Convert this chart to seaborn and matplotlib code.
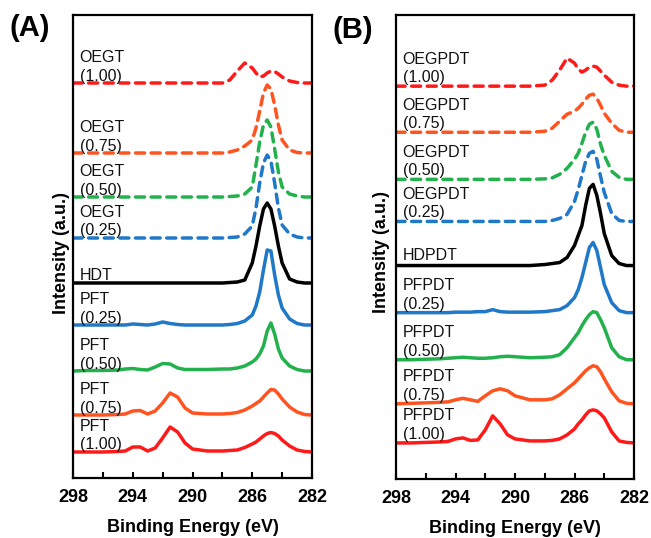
import matplotlib
matplotlib.use("Agg")
import matplotlib.pyplot as plt
import seaborn as sns

# binding energy grid (eV) shared by all spectra
energy = [298, 297, 296, 295, 294.5, 294, 293.5, 293, 292.5, 292, 291.5, 291,
          290.5, 290, 289, 288, 287.5, 287, 286.5, 286, 285.75, 285.5, 285.25,
          285, 284.75, 284.5, 284.25, 284, 283.5, 283, 282.5, 282]

# panel A spectra (a.u., above own baseline)
oegt_100 = [0]*16 + [3, 12, 20, 15, 10, 6, 7, 10, 12, 11.5, 9, 6, 2, 0.5, 0, 0]
oegt_075 = [0]*16 + [1, 3, 7, 13, 25, 42, 60, 68, 64, 48, 28, 13, 3, 0.5, 0, 0]
oegt_050 = [0]*16 + [0.5, 1, 3, 10, 32, 55, 72, 77, 70, 48, 25, 10, 3, 1, 0, 0]
oegt_025 = [0]*16 + [0.5, 1, 4, 12, 30, 55, 75, 83, 77, 55, 30, 13, 4, 1, 0, 0]
hdt = [0]*16 + [0.5, 1, 3, 20, 37, 57, 74, 80, 74, 57, 37, 20, 4, 1, 0, 0]
pft_025 = [0, 0, 0, 0, 0, 1, 0.5, 0, 1, 3, 1.5, 0.5, 0, 0, 0, 0, 0.5,
           1.5, 4, 10, 19, 33, 55, 75, 74, 50, 30, 17, 6, 1.5, 0, 0]
pft_050 = [0, 0.5, 0.5, 1, 2, 2.5, 1.5, 1, 4, 7.5, 7, 3, 1.5, 1.5, 1.5, 2, 2,
           3, 5, 9, 12, 17, 25, 40, 48, 37, 22, 13, 5, 1.5, 0, 0]
pft_075 = [0, 0, 0, 0.5, 1, 4, 4.5, 1, 4, 12, 22, 18, 7, 2, 1, 1, 1.5,
           2.5, 5, 9, 11.5, 14, 18, 22, 25.5, 25, 21, 16, 8, 3, 0.5, 0]
pft_100 = [0, 0, 0, 0.5, 1, 5, 5, 1, 4, 14, 25, 20, 9, 3, 1, 1, 1.5,
           2, 4.5, 8, 10, 13, 16, 18.5, 19.5, 18.5, 16, 12, 6, 2, 0.5, 0]

# panel B spectra
oegpdt_100 = [0]*15 + [1, 6, 16, 28, 23, 17, 14, 16, 19, 20, 19, 15, 11, 4, 1, 0, 0]
oegpdt_075 = [0]*15 + [1, 4, 11, 18, 21, 24, 28, 33, 37, 38, 34, 27, 19, 9, 2, 0, 0]
oegpdt_050 = [0]*15 + [0.5, 1.5, 5, 11, 20, 26, 36, 47, 55, 57, 50, 35, 24, 8, 2, 0, 0]
oegpdt_025 = [0]*15 + [0, 1, 3, 7, 20, 32, 46, 60, 68, 70, 62, 45, 29, 8, 1, 0, 0]
hdpdt = [0]*15 + [1, 2, 3, 8, 20, 30, 40, 60, 77, 81, 70, 52, 32, 10, 2, 0, 0]
pfpdt_025 = [0, 0, 0, 0, 0, 0.5, 0.5, 0.5, 1, 1, 3, 1, 0.5, 0.5, 0.5, 1, 2,
             3, 7, 15, 23, 35, 50, 65, 70, 62, 45, 28, 10, 2, 0, 0]
pfpdt_050 = [0, 0, 0.5, 1, 1.5, 2, 2.5, 2, 1.5, 1.5, 2, 3, 3.5, 3, 2, 2.5, 3,
             5, 12, 22, 27, 34, 40, 45, 48, 47, 40, 32, 12, 3, 0, 0]
pfpdt_075 = [0, 0.5, 1, 1.5, 2, 4, 5.5, 4, 2.5, 8, 13, 15, 13, 8, 4, 4, 5,
             9, 15, 21, 25, 29, 33, 36, 38, 37, 32, 25, 12, 3, 0.5, 0]
pfpdt_100 = [0, 0, 0.5, 1, 1.5, 4, 5, 2.5, 3, 13, 27, 19, 8, 4, 2, 2, 2.5,
             4, 8, 14, 19, 23, 28, 32, 33, 32, 29, 25, 11, 2, 0.5, 0]

names_a = ["OEGT\n(1.00)", "OEGT\n(0.75)", "OEGT\n(0.50)", "OEGT\n(0.25)", "HDT",
           "PFT\n(0.25)", "PFT\n(0.50)", "PFT\n(0.75)", "PFT\n(1.00)"]
names_b = ["OEGPDT\n(1.00)", "OEGPDT\n(0.75)", "OEGPDT\n(0.50)", "OEGPDT\n(0.25)", "HDPDT",
           "PFPDT\n(0.25)", "PFPDT\n(0.50)", "PFPDT\n(0.75)", "PFPDT\n(1.00)"]
spectra_a = [oegt_100, oegt_075, oegt_050, oegt_025, hdt, pft_025, pft_050, pft_075, pft_100]
spectra_b = [oegpdt_100, oegpdt_075, oegpdt_050, oegpdt_025, hdpdt,
             pfpdt_025, pfpdt_050, pfpdt_075, pfpdt_100]
offsets_a = [395, 325, 281, 240, 195, 153, 107, 63, 26]
offsets_b = [392, 346, 299, 257, 213, 166, 119, 75, 36]

x_ticks = [298, 294, 290, 286, 282]
x_minor = [296, 292, 288, 284]

colors = ["#ff1a1a", "#ff5420", "#22b14c", "#1f78c8", "#000000",
          "#1f78c8", "#22b14c", "#ff5420", "#ff1a1a"]
dashed = [True, True, True, True, False, False, False, False, False]

sns.set_theme(style="white")
plt.rcParams["font.family"] = ["Liberation Sans", "DejaVu Sans"]
plt.rcParams["text.color"] = "black"
plt.rcParams["axes.labelcolor"] = "black"
plt.rcParams["xtick.color"] = "black"

fig = plt.figure(figsize=(6.51, 5.38), dpi=100)
ax_a = fig.add_axes([73/651, 60/538, 239/651, 463/538])
ax_b = fig.add_axes([396/651, 59/538, 238/651, 464/538])


def draw_panel(ax, spectra, offsets, names, frac_dy, single_dy):
    for spec, off, name, c, d in zip(spectra, offsets, names, colors, dashed):
        y = [v + off for v in spec]
        ls = (0, (2.6, 1.9)) if d else "-"
        sns.lineplot(x=energy, y=y, ax=ax, color=c, lw=2.5, linestyle=ls,
                     sort=False, solid_capstyle="round", dash_capstyle="round")
        lines = name.split("\n")
        txt = dict(fontsize=11.5, va="baseline", color="#111111")
        if len(lines) == 2:
            ax.text(297.55, off + frac_dy + 18.5, lines[0], **txt)
            ax.text(297.55, off + frac_dy, lines[1], **txt)
        else:
            ax.text(297.55, off + single_dy, lines[0], **txt)
    ax.set_xlim(298, 282)
    ax.set_ylim(0, 463)
    ax.set_yticks([])
    ax.set_xticks(x_ticks)
    ax.set_xticks(x_minor, minor=True)
    ax.tick_params(axis="x", which="both", direction="in", length=4.5, width=1.5,
                   bottom=True, color="black")
    ax.tick_params(axis="x", which="major", labelsize=13, pad=8)
    for lab in ax.get_xticklabels():
        lab.set_fontweight("bold")
    for sp in ax.spines.values():
        sp.set_color("black")
        sp.set_linewidth(1.6)
    ax.set_xlabel("Binding Energy (eV)", fontsize=13, fontweight="bold", labelpad=9)
    ax.set_ylabel("")


draw_panel(ax_a, spectra_a, offsets_a, names_a, 2.5, 3)
draw_panel(ax_b, spectra_b, offsets_b, names_b, 4, 6)

fig.text(62/651, 1 - 253/538, "Intensity (a.u.)", rotation=90, ha="center", va="center",
         fontsize=13, fontweight="bold")
fig.text(381/651, 1 - 252/538, "Intensity (a.u.)", rotation=90, ha="center", va="center",
         fontsize=13, fontweight="bold")
fig.text(30/651, 1 - 28/538, "(A)", ha="center", va="center", fontsize=21, fontweight="bold")
fig.text(353/651, 1 - 30/538, "(B)", ha="center", va="center", fontsize=21, fontweight="bold")

fig.savefig("out.png", dpi=100)
